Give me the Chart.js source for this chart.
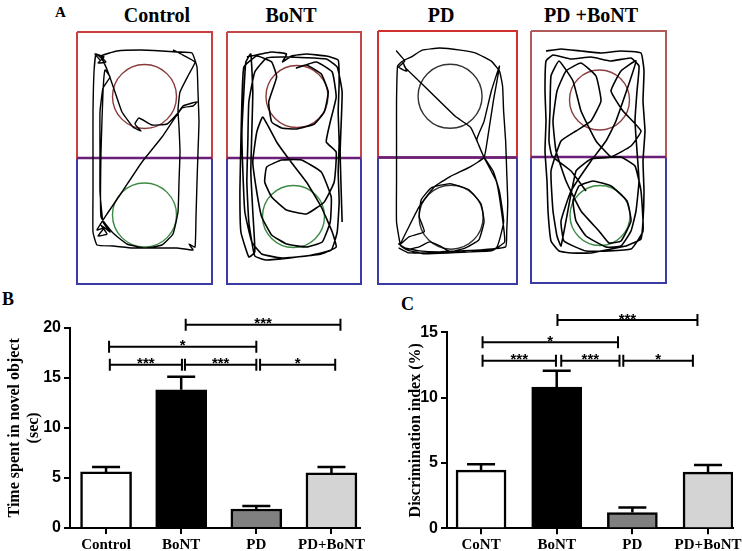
<!DOCTYPE html>
<html>
<head>
<meta charset="utf-8">
<script src="https://cdn.jsdelivr.net/npm/chart.js@4.4.1/dist/chart.umd.min.js"></script>
<style>
  body { margin: 0; background: #fff; width: 742px; height: 551px; position: relative; overflow: hidden; }
  canvas { position: absolute; }
  .lbl { position: absolute; font-family: 'Liberation Serif', 'Times New Roman', serif; font-weight: bold; color: #000; white-space: nowrap; }
  .ttl { font-size: 20px; line-height: 20px; top: 5px; transform: translateX(-50%); }
</style>
</head>
<body>
<div class="lbl" style="left:55px;top:5px;font-size:15px;line-height:15px">A</div>
<div class="lbl" style="left:2px;top:290px;font-size:18px;line-height:18px">B</div>
<div class="lbl" style="left:401px;top:295px;font-size:18px;line-height:18px">C</div>
<div class="lbl ttl" style="left:157px">Control</div>
<div class="lbl ttl" style="left:291px">BoNT</div>
<div class="lbl ttl" style="left:441px">PD</div>
<div class="lbl ttl" style="left:591px">PD +BoNT</div>

<canvas id="arena0"></canvas>
<canvas id="arena1"></canvas>
<canvas id="arena2"></canvas>
<canvas id="arena3"></canvas>
<canvas id="timeChart" width="371" height="261" style="left:0;top:290px"></canvas>
<canvas id="discChart" width="371" height="261" style="left:371px;top:290px"></canvas>

<script>
// ---------- panel B / C values ----------
const groupsB = ['Control', 'BoNT', 'PD', 'PD+BoNT'];
const groupsC = ['CoNT', 'BoNT', 'PD', 'PD+BoNT'];
const barColors = ['#ffffff', '#000000', '#808080', '#d4d4d4'];

const timeMean = [5.6, 13.8, 1.9, 5.5];
const timeErr = [0.5, 1.3, 0.3, 0.6];
const timeTicks = [0, 5, 10, 15, 20];

const discMean = [4.45, 10.8, 1.2, 4.3];
const discErr = [0.45, 1.25, 0.4, 0.55];
const discTicks = [0, 5, 10, 15];

// significance brackets (start / end in group units, height in axis units)
const sigFromB = [0.05, 1.05, 2.05, 0.04, 1.06];
const sigToB = [1.01, 2.0, 3.05, 2.0, 3.12];
const sigYB = [16.3, 16.3, 16.3, 18.1, 20.3];
const sigTxtB = ['***', '***', '*', '*', '***'];

const sigFromC = [0.02, 1.06, 1.88, 0.02, 1.01];
const sigToC = [0.99, 1.83, 2.80, 1.81, 2.86];
const sigYC = [12.83, 12.83, 12.83, 14.23, 15.94];
const sigTxtC = ['***', '***', '*', '*', '***'];

// ---------- panel A: arenas (units: 135 wide x 252 tall) ----------
const zoneTop = [[0, 0], [135, 0], [135, 126], [0, 126], [0, 0]];
const zoneBottom = [[0, 126], [135, 126], [135, 252], [0, 252], [0, 126]];
const zoneSplit = [[0, 126], [135, 126]];
const objTop = [[67.5, 64.5], [70.5, 64.5], [70, 65], [68.5, 69]];
const objBottom = [[67.5, 183], [67, 184.5], [71, 185.5], [69, 184.5]];
const objRadius = [32, 31, 32, 30];

const trackControl = [[23,28],[18,22],[27,25],[21,31],[29,30],[24,24],[40,19],[63,18],[85,19],[100,20],[115,21],[120,35],[121,60],[122,90],[121,120],[120,150],[119,185],[118,215],[112,212],[116,218],[100,216],[80,216],[56,216],[36,214],[20,213],[16,200],[16,160],[16,120],[16,80],[17,40],[19,22],[25,27],[31,40],[38,60],[45,80],[56,95],[64,99],[58,92],[62,86],[75,93],[90,92],[100,82],[106,74],[112,72],[120,70],[116,74],[105,76],[85,105],[65,130],[45,160],[30,182],[20,198],[27,196],[21,204],[30,202],[24,193],[33,200],[26,190],[23,160],[23,120],[23,80],[26,56],[33,45],[28,38],[26,60],[24,120],[24,185],[36,201],[50,212],[68,216],[85,213],[96,202],[101,180],[102,150],[103,120],[102,95],[101,78],[103,60],[112,42],[118,30],[104,22],[96,18]];
const trackBoNT = [[20,25],[45,20],[60,22],[56,30],[65,24],[80,22],[100,24],[112,28],[113,50],[112,80],[113,110],[112,140],[113,170],[111,200],[105,218],[80,224],[55,226],[35,222],[25,210],[18,180],[16,140],[15,100],[17,60],[19,30],[24,22],[26,60],[25,100],[24,140],[26,180],[28,220],[22,225],[14,200],[13,160],[14,110],[15,70],[17,35],[30,24],[45,30],[50,45],[42,70],[45,90],[55,96],[70,97],[88,92],[98,80],[102,60],[95,42],[80,33],[70,36],[90,30],[106,40],[110,65],[104,90],[100,110],[110,120],[108,150],[98,170],[80,182],[60,178],[45,165],[38,150],[40,135],[55,128],[75,128],[95,140],[105,165],[104,190],[96,210],[80,215],[60,212],[45,203],[35,185],[30,160],[26,130],[30,100],[36,85],[50,110],[63,128],[80,150],[95,175],[106,200],[110,215],[95,222],[70,225],[40,228],[28,224],[22,190],[20,150],[21,110],[22,70],[28,40],[40,26],[60,25],[100,27],[111,35],[116,60],[114,120],[116,190]];
const trackPD = [[23,26],[18,20],[26,30],[20,36],[28,40],[24,30],[32,26],[43,19],[60,17],[80,19],[95,22],[110,30],[118,40],[121,55],[122,80],[124,110],[125,140],[126,170],[125,200],[124,215],[100,218],[80,219],[60,220],[40,219],[26,216],[20,212],[28,218],[22,214],[18,190],[18,150],[18,110],[18,70],[19,35],[24,30],[26,36],[40,50],[75,85],[90,96],[103,126],[96,108],[103,90],[110,60],[118,35],[112,70],[106,110],[103,126],[90,135],[70,145],[55,155],[40,175],[30,195],[22,212],[30,205],[45,200],[40,185],[42,168],[52,156],[70,152],[88,158],[100,172],[103,190],[98,208],[85,216],[70,220],[60,214],[50,210],[40,215],[28,218],[45,222],[90,220],[115,216],[122,190],[118,160],[112,140],[103,126],[115,150],[120,180],[123,210],[110,219],[30,221],[20,216]];
const trackPDBoNT = [[15,20],[30,18],[50,20],[70,22],[90,20],[110,22],[113,40],[112,70],[114,100],[112,130],[113,160],[112,190],[110,208],[95,215],[80,218],[60,222],[40,222],[28,220],[20,210],[17,180],[16,150],[14,120],[15,90],[14,60],[15,30],[22,24],[40,28],[60,26],[80,30],[100,27],[108,35],[106,60],[104,90],[106,120],[108,150],[105,180],[100,200],[90,215],[75,216],[55,205],[45,190],[42,170],[48,155],[62,150],[80,155],[96,170],[100,190],[90,210],[78,212],[68,200],[50,180],[35,150],[25,120],[22,90],[26,60],[35,40],[50,32],[65,45],[70,70],[60,90],[45,100],[30,110],[20,140],[22,180],[26,205],[30,215],[45,140],[60,128],[80,126],[100,115],[110,100],[92,80],[80,60],[90,40],[105,30],[85,90],[75,110],[60,130],[40,160],[30,190],[33,210],[55,220],[100,218],[112,200],[110,160],[104,135],[90,126],[80,126],[65,110],[50,80],[42,50],[28,30],[20,45],[19,80],[18,110],[21,125],[40,140],[55,160]];

const tracks = [trackControl, trackBoNT, trackPD, trackPDBoNT];
const topColors = ['#cc3f3f', '#c04848', '#d03030', '#b05a5a'];
const objTopColors = ['#8b3a3a', '#8b3a3a', '#333333', '#8b4040'];
const objBottomColors = ['#3d8a45', '#3d8a45', '#333333', '#3d8a45'];

// page boxes of the arenas: left, top, width, height
const arenaBoxes = [[77, 32, 135, 252], [227, 32, 134, 252], [378, 31, 139, 253], [531, 31, 135, 252]];

const pts = arr => arr.map(([x, y]) => ({ x, y }));

tracks.forEach((track, i) => {
  const [bx, by, bw, bh] = arenaBoxes[i];
  const cv = document.getElementById('arena' + i);
  const m = 3;
  cv.width = bw + 2 * m;
  cv.height = bh + 2 * m;
  cv.style.left = (bx - m) + 'px';
  cv.style.top = (by - m) + 'px';
  const line = (data, color, width, tension) => ({
    type: 'scatter', data: pts(data), showLine: true, pointRadius: 0,
    borderColor: color, borderWidth: width, clip: false, tension: tension
  });
  new Chart(cv, {
    type: 'scatter',
    data: {
      datasets: [
        line(track, '#000', i % 2 ? 1.6 : 1.4, 0.12),
        {
          type: 'bubble', clip: false,
          data: [{ x: objTop[i][0], y: objTop[i][1], r: objRadius[i] },
                 { x: objBottom[i][0], y: objBottom[i][1], r: objRadius[i] }],
          backgroundColor: 'rgba(0,0,0,0)',
          borderColor: [objTopColors[i], objBottomColors[i]],
          borderWidth: 1.4
        },
        line(zoneSplit, '#6a1f7a', 2.5, 0),
        line(zoneTop, topColors[i], 2, 0),
        line(zoneBottom, '#3b3ba6', 2, 0)
      ]
    },
    options: {
      responsive: false, animation: false, events: [],
      layout: { padding: m, autoPadding: false },
      plugins: { legend: { display: false }, tooltip: { enabled: false } },
      scales: {
        x: { type: 'linear', min: 0, max: 135, display: false },
        y: { type: 'linear', min: 0, max: 252, reverse: true, display: false }
      }
    }
  });
});

// ---------- bar panels ----------
function statsPlugin(means, errs, from, to, level, text) {
  return {
    id: 'stats',
    afterDatasetsDraw(chart) {
      const { ctx, scales: { x, y } } = chart;
      ctx.save();
      ctx.strokeStyle = '#000';
      ctx.fillStyle = '#000';
      ctx.lineWidth = 2.5;
      means.forEach((mv, i) => {
        const px = x.getPixelForValue(i);
        const top = y.getPixelForValue(mv + errs[i]);
        ctx.beginPath();
        ctx.moveTo(px, y.getPixelForValue(mv));
        ctx.lineTo(px, top);
        ctx.moveTo(px - 14, top);
        ctx.lineTo(px + 14, top);
        ctx.stroke();
      });
      ctx.lineWidth = 2;
      ctx.font = 'bold 15px "Liberation Sans", Arial, sans-serif';
      ctx.textAlign = 'center';
      ctx.textBaseline = 'alphabetic';
      from.forEach((f, k) => {
        const x1 = x.getPixelForValue(f);
        const x2 = x.getPixelForValue(to[k]);
        const py = y.getPixelForValue(level[k]);
        ctx.beginPath();
        ctx.moveTo(x1, py); ctx.lineTo(x2, py);
        ctx.moveTo(x1, py - 6); ctx.lineTo(x1, py + 6);
        ctx.moveTo(x2, py - 6); ctx.lineTo(x2, py + 6);
        ctx.stroke();
        ctx.fillText(text[k], (x1 + x2) / 2, py + 3.5);
      });
      ctx.restore();
    }
  };
}

function barPanel(id, labels, means, errs, yTicks, yTitle, cfg, sig) {
  return new Chart(document.getElementById(id), {
    type: 'bar',
    data: {
      datasets: [{
        data: means.map((v, i) => ({ x: i, y: v })),
        backgroundColor: barColors,
        borderColor: '#000',
        borderWidth: 2.5,
        barThickness: cfg.barWidth
      }]
    },
    plugins: [statsPlugin(means, errs, ...sig)],
    options: {
      responsive: false, animation: false, events: [],
      layout: { padding: { top: cfg.top, right: cfg.right, left: 0, bottom: 0 } },
      plugins: { legend: { display: false }, tooltip: { enabled: false } },
      scales: {
        x: {
          type: 'linear', min: cfg.xMin, max: cfg.xMax, offset: false, bounds: 'data',
          afterBuildTicks: a => { a.ticks = labels.map((_, i) => ({ value: i })); },
          afterFit: a => { a.height = cfg.xHeight; a.paddingLeft = 0; a.paddingRight = 0; },
          ticks: {
            callback: v => labels[v], color: '#000', maxRotation: 0, autoSkip: false, padding: 2,
            font: { family: 'Liberation Serif', size: 15, weight: 'bold' }
          },
          grid: { offset: false, drawOnChartArea: false, tickLength: 6, color: '#000', lineWidth: 2 },
          border: { color: '#000', width: 2 }
        },
        y: {
          min: 0, max: yTicks[yTicks.length - 1],
          afterBuildTicks: a => { a.ticks = yTicks.map(v => ({ value: v })); },
          afterFit: a => { a.width = cfg.yWidth; a.paddingTop = 0; a.paddingBottom = 0; },
          ticks: { color: '#000', padding: 3, font: { family: 'Liberation Sans', size: 16, weight: 'bold' } },
          grid: { drawOnChartArea: false, tickLength: 6, color: '#000', lineWidth: 2 },
          border: { color: '#000', width: 2 },
          title: {
            display: true, text: yTitle, color: '#000',
            font: { family: 'Liberation Serif', size: 16, weight: 'bold', lineHeight: 1.15 },
            padding: { top: cfg.titlePad, bottom: 0 }
          }
        }
      }
    }
  });
}

barPanel('timeChart', groupsB, timeMean, timeErr, timeTicks,
  ['Time spent in novel object', '(sec)'],
  { barWidth: 51, top: 37.7, right: 11, xMin: -0.48, xMax: 3.38, xHeight: 23, yWidth: 70, titlePad: 5.8 },
  [sigFromB, sigToB, sigYB, sigTxtB]);

barPanel('discChart', groupsC, discMean, discErr, discTicks,
  'Discrimination index (%)',
  { barWidth: 50, top: 42.3, right: 9, xMin: -0.45, xMax: 3.33, xHeight: 22.7, yWidth: 76, titlePad: 35.8 },
  [sigFromC, sigToC, sigYC, sigTxtC]);
</script>
</body>
</html>
